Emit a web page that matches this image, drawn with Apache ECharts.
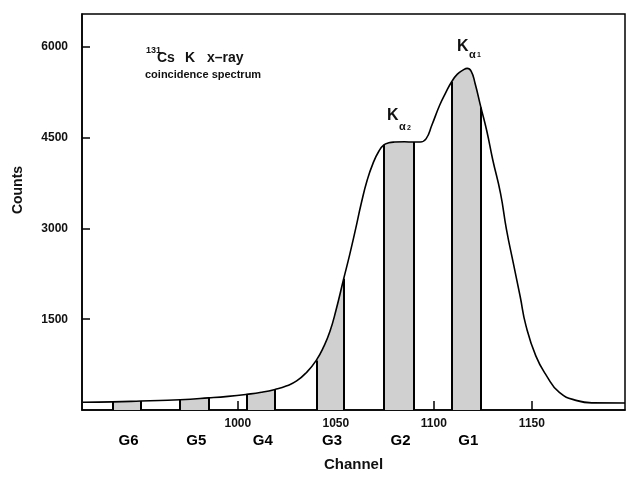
<!DOCTYPE html>
<html>
<head>
<meta charset="utf-8">
<script src="https://cdn.jsdelivr.net/npm/echarts@6/dist/echarts.min.js"></script>
<style>
html,body{margin:0;padding:0;background:#fff;}
#chart{width:628px;height:477px;}
</style>
</head>
<body>
<div id="chart"></div>
<script>
// Spectrum curve (channel, counts)
const channels = [921, 936, 950.5, 960, 970.5, 985, 995, 1004.5, 1012, 1019, 1025, 1030, 1035, 1040, 1044, 1047, 1050, 1054, 1057, 1060, 1063, 1066, 1069, 1072, 1074.5, 1077, 1080, 1085, 1089.5, 1093, 1096, 1099, 1103, 1106, 1109, 1112, 1115, 1117, 1119, 1121, 1124, 1127, 1130, 1134, 1137, 1140.5, 1144, 1147, 1152, 1157.5, 1164, 1173, 1181, 1197.5];
const counts   = [128, 135, 148, 158, 170, 200, 225, 258, 292, 340, 400, 480, 620, 820, 1060, 1300, 1640, 2170, 2560, 2980, 3420, 3800, 4080, 4280, 4380, 4415, 4428, 4432, 4428, 4428, 4480, 4710, 5040, 5240, 5420, 5550, 5620, 5645, 5600, 5400, 5000, 4610, 4140, 3580, 2990, 2430, 1880, 1390, 895, 565, 290, 155, 118, 115];

// Gates
const gateNames = ['G1', 'G2', 'G3', 'G4', 'G5', 'G6'];
const gateStart = [1109, 1074.5, 1040, 1004.5, 970.5, 936];
const gateEnd   = [1124, 1089.5, 1054, 1019, 985, 950.5];

// Tick labels
const xTicks = [1000, 1050, 1100, 1150];
const yTicks = [1500, 3000, 4500, 6000];

const FONT = 'Liberation Sans, Arial, sans-serif';
const curve = channels.map((c, i) => [c, counts[i]]);
const countAt = ch => counts[channels.indexOf(ch)];

const edgeLines = [];
gateStart.forEach((s, i) => {
  [s, gateEnd[i]].forEach(e => {
    edgeLines.push([{ coord: [e, 0] }, { coord: [e, countAt(e)] }]);
  });
});

const gateLabels = gateNames.map((n, i) => ({ name: n, value: [(gateStart[i] + gateEnd[i]) / 2, 0] }));

const SMOOTH = 0.5;
const chart = echarts.init(document.getElementById('chart'), null, { renderer: 'canvas' });
chart.setOption({
  animation: false,
  backgroundColor: '#fff',
  grid: { left: 82, right: 3, top: 14, bottom: 66, show: true, borderColor: '#000', borderWidth: 1.5 },
  xAxis: {
    type: 'value', min: 920.5, max: 1197.5,
    name: 'Channel', nameLocation: 'middle', nameGap: 47,
    nameTextStyle: { fontFamily: FONT, fontWeight: 'bold', fontSize: 15, color: '#111' },
    axisLine: { show: true, lineStyle: { color: '#000', width: 1.5 } },
    axisTick: { show: true, inside: true, length: 9, customValues: xTicks, lineStyle: { color: '#000', width: 1.5 } },
    axisLabel: { customValues: xTicks, margin: 8, formatter: v => String(v), fontFamily: FONT, fontWeight: 'bold', fontSize: 12, color: '#111' },
    splitLine: { show: false }
  },
  yAxis: {
    type: 'value', min: 0, max: 6544,
    axisLine: { show: true, lineStyle: { color: '#000', width: 1.5 } },
    axisTick: { show: true, inside: true, length: 8, customValues: yTicks, lineStyle: { color: '#000', width: 1.5 } },
    axisLabel: { customValues: yTicks, margin: 14, formatter: v => String(v), fontFamily: FONT, fontWeight: 'bold', fontSize: 12, color: '#111' },
    splitLine: { show: false }
  },
  visualMap: {
    type: 'piecewise', show: false, dimension: 0, seriesIndex: 0,
    pieces: gateStart.map((s, i) => ({ gte: s, lte: gateEnd[i], color: '#d0d0d0' })),
    outOfRange: { color: 'rgba(255,255,255,0)' }
  },
  series: [
    {
      type: 'line', data: curve, smooth: SMOOTH, showSymbol: false,
      lineStyle: { width: 0 }, areaStyle: { opacity: 1 }, z: 1, silent: true
    },
    {
      type: 'line', data: curve, smooth: SMOOTH, showSymbol: false,
      lineStyle: { color: '#000', width: 1.6 }, z: 3, silent: true,
      markLine: {
        silent: true, symbol: ['none', 'none'], label: { show: false },
        lineStyle: { color: '#000', width: 2, type: 'solid' },
        data: edgeLines
      }
    },
    {
      type: 'scatter', data: gateLabels, symbolSize: 0, clip: false, silent: true,
      itemStyle: { opacity: 1, color: '#000' },
      label: {
        show: true, position: 'inside', offset: [2, 31], formatter: p => p.name,
        fontFamily: FONT, fontWeight: 'bold', fontSize: 15, color: '#000', opacity: 1
      }
    }
  ],
  graphic: [
    { type: 'text', x: 18, y: 190, rotation: Math.PI / 2,
      style: { text: 'Counts', font: 'bold 14px ' + FONT, fill: '#111', align: 'center', verticalAlign: 'middle' } },
    { type: 'text', x: 146, y: 46, style: { text: '131', font: 'bold 9px ' + FONT, fill: '#111' } },
    { type: 'text', x: 157, y: 51, style: { text: 'Cs', font: 'bold 14px ' + FONT, fill: '#111' } },
    { type: 'text', x: 185, y: 51, style: { text: 'K', font: 'bold 14px ' + FONT, fill: '#111' } },
    { type: 'text', x: 207, y: 51, style: { text: 'x\u2013ray', font: 'bold 14px ' + FONT, fill: '#111', letterSpacing: 1.5 } },
    { type: 'text', x: 145, y: 69, style: { text: 'coincidence spectrum', font: 'bold 11px ' + FONT, fill: '#111', letterSpacing: 0.3 } },
    { type: 'text', x: 457, y: 39, style: { text: 'K', font: 'bold 16px ' + FONT, fill: '#111' } },
    { type: 'text', x: 469, y: 49, style: { text: 'α', font: 'bold 11px ' + FONT, fill: '#111' } },
    { type: 'text', x: 477, y: 52, style: { text: '1', font: 'bold 7px ' + FONT, fill: '#111' } },
    { type: 'text', x: 387, y: 108, style: { text: 'K', font: 'bold 16px ' + FONT, fill: '#111' } },
    { type: 'text', x: 399, y: 121, style: { text: 'α', font: 'bold 11px ' + FONT, fill: '#111' } },
    { type: 'text', x: 407, y: 125, style: { text: '2', font: 'bold 7px ' + FONT, fill: '#111' } }
  ]
});
</script>
</body>
</html>
